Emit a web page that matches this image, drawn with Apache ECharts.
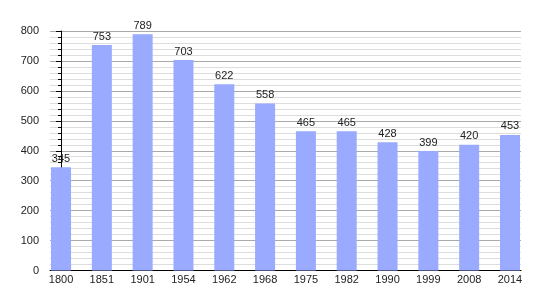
<!DOCTYPE html>
<html>
<head>
<meta charset="utf-8">
<script src="https://cdn.jsdelivr.net/npm/echarts@6/dist/echarts.min.js"></script>
<style>html,body{margin:0;padding:0;background:#fff}#c{width:550px;height:300px}</style>
</head>
<body>
<div id="c"></div>
<script>
const years = ['1800','1851','1901','1954','1962','1968','1975','1982','1990','1999','2008','2014'];
const population = [345, 753, 789, 703, 622, 558, 465, 465, 428, 399, 420, 453];
const yTicks = [0, 100, 200, 300, 400, 500, 600, 700, 800];

const chart = echarts.init(document.getElementById('c'), null, {renderer: 'canvas'});
const idx = years.map((_, i) => i);
chart.setOption({
  animation: false,
  backgroundColor: '#fff',
  textStyle: {fontFamily: 'Liberation Sans, Arial, sans-serif'},
  grid: {left: 50, right: 29, top: 31, bottom: 29.5, containLabel: false},
  xAxis: {
    type: 'value',
    min: -0.27,
    max: 11.27,
    axisLine: {show: true, onZero: false, lineStyle: {color: '#000', width: 1}},
    axisTick: {show: false},
    splitLine: {show: false},
    axisLabel: {
      customValues: idx,
      color: '#222',
      fontSize: 11,
      margin: 4,
      formatter: v => years[Math.round(v)]
    }
  },
  yAxis: {
    type: 'value',
    min: 0,
    max: 800,
    interval: 100,
    axisLine: {show: true, lineStyle: {color: '#000', width: 1}},
    axisTick: {show: true, length: 5, lineStyle: {color: '#000'}},
    minorTick: {show: true, splitNumber: 5, length: 3, lineStyle: {color: '#000'}},
    splitLine: {show: true, lineStyle: {color: '#aaaaaa', width: 1}},
    minorSplitLine: {show: true, lineStyle: {color: '#dddddd', width: 1}},
    axisLabel: {
      customValues: yTicks,
      color: '#222',
      fontSize: 11,
      margin: 11
    }
  },
  series: [{
    type: 'bar',
    data: population.map((v, i) => [i, v]),
    barWidth: 20,
    itemStyle: {color: '#99aaff'},
    label: {show: true, position: 'top', distance: 3, color: '#222', fontSize: 11}
  }]
});
</script>
</body>
</html>
